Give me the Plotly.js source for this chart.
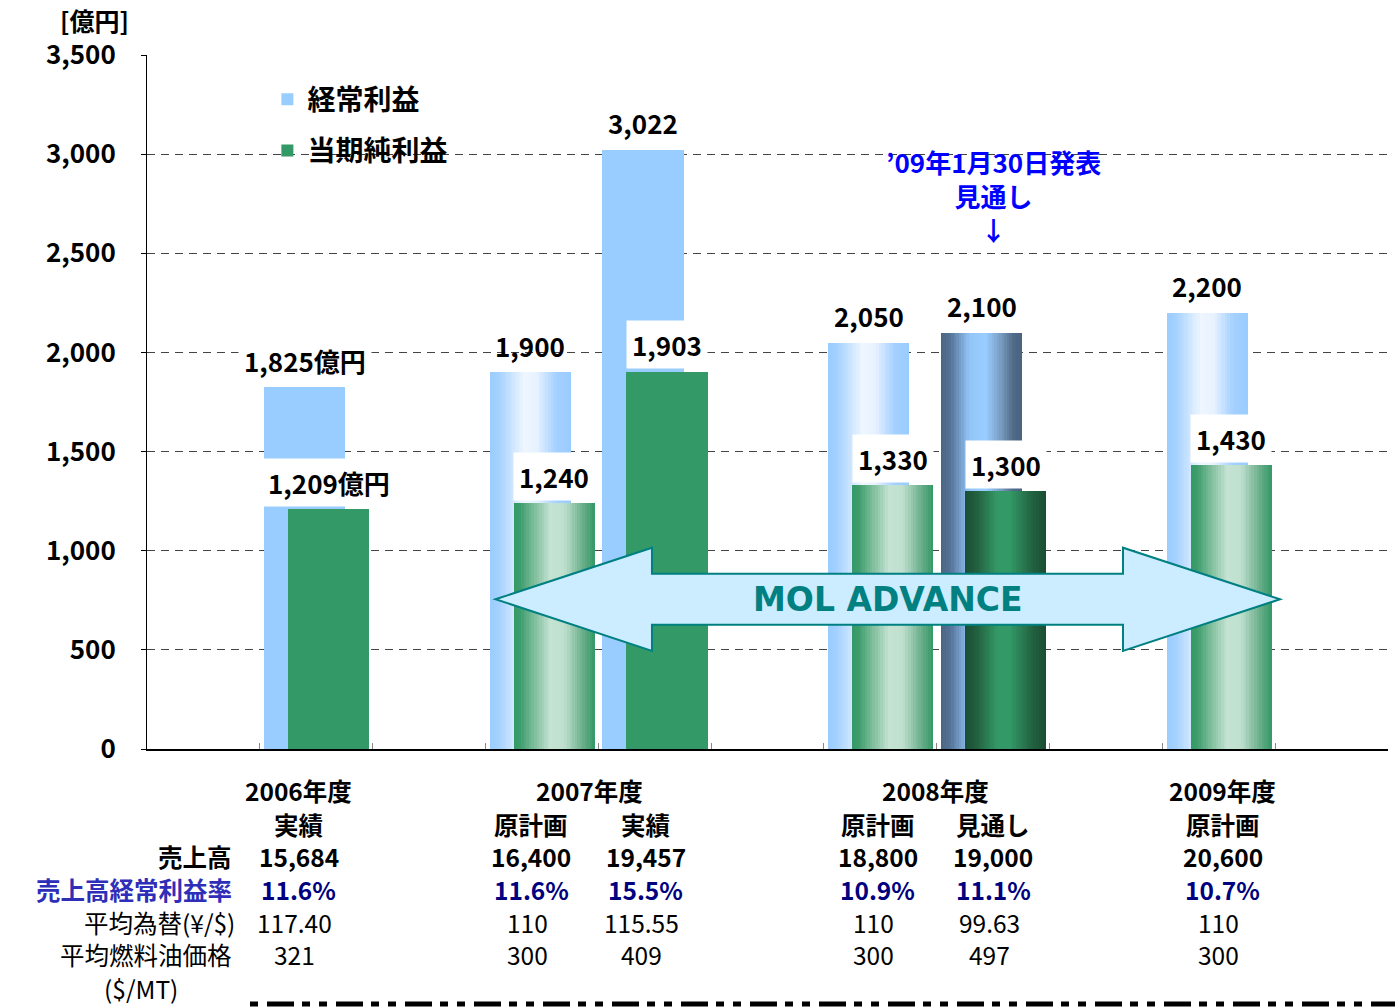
<!DOCTYPE html>
<html><head><meta charset="utf-8">
<script src="https://cdn.plot.ly/plotly-3.0.1.min.js"></script>
<style>html,body{margin:0;padding:0;background:#fff;} #chart{width:1395px;height:1008px;}</style>
</head><body><div id="chart"></div>
<script>
// ---------------- data ----------------
const fiscalYears = ['2006年度', '2007年度', '2008年度', '2009年度'];
const periodTypes = ['実績', '原計画', '実績', '原計画', '見通し', '原計画'];
const periodYear = [0, 1, 1, 2, 2, 3];
const ordinaryProfit = [1825, 1900, 3022, 2050, 2100, 2200];
const netIncome = [1209, 1240, 1903, 1330, 1300, 1430];
const sales = [15684, 16400, 19457, 18800, 19000, 20600];
const ordinaryMargin = ['11.6%', '11.6%', '15.5%', '10.9%', '11.1%', '10.7%'];
const fxRate = ['117.40', '110', '115.55', '110', '99.63', '110'];
const fuelPrice = ['321', '300', '409', '300', '497', '300'];
const rowLabels = ['売上高', '売上高経常利益率', '平均為替(¥/$)', '平均燃料油価格', '($/MT)'];
const seriesNames = ['経常利益', '当期純利益'];
const yTickVals = [0, 500, 1000, 1500, 2000, 2500, 3000, 3500];
const unitLabel = '[億円]';
const firstLabelSuffix = '億円';
const bannerText = 'MOL ADVANCE';
const noteLines = ['’09年1月30日発表', '見通し', '↓'];

// ---------------- layout / style config ----------------
const slot = [1, 3, 4, 6, 7, 9];            // category slot of each bar pair
const barKind = ['flat', 'plan', 'flat', 'plan', 'fcst', 'plan'];
const BW = 0.72, OFF_B = -0.463, OFF_G = -0.25;
const colX = [0.847, 2.904, 3.923, 5.979, 6.999, 9.037];
const yearX = [0.847, 3.418, 6.485, 9.037];
const rowY = { year: -0.0605, type: -0.1081, sales: -0.1542, margin: -0.2031, fx: -0.2493, fuel: -0.2968, unit: -0.3444 };
const blueLabelBg = ['white', 'rgba(0,0,0,0)', 'white', 'white', 'white', 'white'];

const FONT = '"Noto Sans CJK JP", "Noto Sans", sans-serif';
const BLUE = '#99CCFF', GREEN = '#339966';
const grads = {
  bplan: [[0, '#99CCFF'], [0.12, '#A6D2FF'], [0.42, '#EEF6FF'], [0.58, '#E8F2FF'], [0.82, '#A3D0FF'], [1, '#99CCFF']],
  bfcst: [[0, '#4A6580'], [0.12, '#56749A'], [0.35, '#93C6F8'], [0.55, '#99CCFF'], [0.75, '#7799BE'], [0.9, '#4D6884'], [1, '#4A6580']],
  gplan: [[0, '#339966'], [0.08, '#3D9D6C'], [0.3, '#8FC6A8'], [0.45, '#C4E3D3'], [0.62, '#C0E0CF'], [0.85, '#6AAE8A'], [1, '#339966']],
  gfcst: [[0, '#1A4D33'], [0.15, '#226140'], [0.4, '#339966'], [0.55, '#339966'], [0.85, '#215F3F'], [1, '#1A4D33']]
};

function hex(h) { return [parseInt(h.slice(1, 3), 16), parseInt(h.slice(3, 5), 16), parseInt(h.slice(5, 7), 16)]; }
function colorAt(stops, t) {
  for (let i = 0; i < stops.length - 1; i++) {
    const [p0, c0] = stops[i], [p1, c1] = stops[i + 1];
    if (t >= p0 && t <= p1) {
      const f = (t - p0) / (p1 - p0 || 1), a = hex(c0), b = hex(c1);
      return 'rgb(' + a.map((v, k) => Math.round(v + (b[k] - v) * f)).join(',') + ')';
    }
  }
  return stops[stops.length - 1][1];
}

const N = 32;
function barTraces(values, offset, flatColor, gradMap, name, group) {
  const traces = [];
  const flatIdx = values.map((v, i) => i).filter(i => barKind[i] === 'flat');
  traces.push({
    type: 'bar', name: name, legendgroup: group, showlegend: true,
    x: flatIdx.map(i => slot[i]), y: flatIdx.map(i => values[i]),
    width: BW, offset: offset, marker: { color: flatColor, line: { width: 0 } },
    hoverinfo: 'skip'
  });
  Object.keys(gradMap).forEach(kind => {
    const stops = gradMap[kind];
    const xs = [], ys = [], offs = [], ws = [], cs = [];
    values.forEach((v, i) => {
      if (barKind[i] !== kind) return;
      for (let k = 0; k < N; k++) {
        const o = offset + k * BW / N;
        xs.push(slot[i]); ys.push(v); offs.push(o);
        ws.push(Math.min(BW / N * 1.7, offset + BW - o));
        cs.push(colorAt(stops, (k + 0.5) / N));
      }
    });
    traces.push({
      type: 'bar', name: name, legendgroup: group, showlegend: false,
      x: xs, y: ys, offset: offs, width: ws,
      marker: { color: cs, line: { width: 0 } }, hoverinfo: 'skip'
    });
  });
  return traces;
}

const data = [].concat(
  barTraces(ordinaryProfit, OFF_B, BLUE, { plan: grads.bplan, fcst: grads.bfcst }, seriesNames[0], 'g1'),
  barTraces(netIncome, OFF_G, GREEN, { plan: grads.gplan, fcst: grads.gfcst }, seriesNames[1], 'g2')
);

const fmt = v => v.toLocaleString('en-US');
const ann = [];
// bar value labels
ordinaryProfit.forEach((v, i) => ann.push({
  x: slot[i] + OFF_B + BW / 2, y: v, xref: 'x', yref: 'y', yanchor: 'middle', yshift: 27,
  text: fmt(v) + (i === 0 ? firstLabelSuffix : ''), showarrow: false,
  font: { family: FONT, size: 26, color: '#000', weight: 'bold' }, bgcolor: blueLabelBg[i], borderpad: 5
}));
netIncome.forEach((v, i) => ann.push({
  x: slot[i] + OFF_G + BW / 2, y: v, xref: 'x', yref: 'y', yanchor: 'middle', yshift: 27,
  text: fmt(v) + (i === 0 ? firstLabelSuffix : ''), showarrow: false,
  font: { family: FONT, size: 26, color: '#000', weight: 'bold' }, bgcolor: 'white', borderpad: 5
}));
// unit label
ann.push({ x: -0.042, y: 1.051, xref: 'paper', yref: 'paper', text: unitLabel, showarrow: false,
  xanchor: 'center', yanchor: 'middle', borderpad: 0, font: { family: FONT, size: 25, color: '#000', weight: 'bold' } });
// note (three lines in one text block)
ann.push({ x: 7.0, y: 2789, xref: 'x', yref: 'y', text: noteLines.join('<br>'), showarrow: false,
  xanchor: 'center', yanchor: 'middle', align: 'center', borderpad: 0,
  font: { family: FONT, size: 26, color: '#0000FF', weight: 'bold' } });
// banner text
ann.push({ x: 6.068, y: 756, xref: 'x', yref: 'y', text: bannerText, showarrow: false, xanchor: 'center', yanchor: 'middle',
  font: { family: '"DejaVu Sans", sans-serif', size: 33, color: '#008080', weight: 'bold' } });

// table
function cell(x, y, text, opts) {
  ann.push(Object.assign({ x: x, y: y, xref: 'x', yref: 'paper', text: text, showarrow: false,
    xanchor: 'center', yanchor: 'middle', borderpad: 0 }, opts));
}
const TS = 24.5;
const boldBlack = { family: FONT, size: TS, color: '#000', weight: 'bold' };
const normBlack = { family: FONT, size: TS, color: '#000', weight: 'normal' };
const boldNavy = { family: FONT, size: TS, color: '#000080', weight: 'bold' };
fiscalYears.forEach((t, j) => cell(yearX[j], rowY.year, t, { font: boldBlack }));
periodTypes.forEach((t, i) => {
  cell(colX[i], rowY.type, t, { font: boldBlack });
  cell(colX[i], rowY.sales, fmt(sales[i]), { font: boldBlack });
  cell(colX[i], rowY.margin, ordinaryMargin[i], { font: boldNavy });
  cell(colX[i], rowY.fx, fxRate[i], { font: normBlack, xshift: -4 });
  cell(colX[i], rowY.fuel, fuelPrice[i], { font: normBlack, xshift: -4 });
});
const rl = (t, y, font, xa, xp) => ann.push({ x: xp, y: y, xref: 'paper', yref: 'paper', text: t, showarrow: false,
  xanchor: xa, yanchor: 'middle', font: font, borderpad: 0 });
rl(rowLabels[0], rowY.sales, boldBlack, 'right', 0.0693);
rl(rowLabels[1], rowY.margin, { family: FONT, size: TS, color: '#2E2EB8', weight: 'bold' }, 'right', 0.0693);
rl(rowLabels[2], rowY.fx, normBlack, 'right', 0.0717);
rl(rowLabels[3], rowY.fuel, normBlack, 'right', 0.0693);
rl(rowLabels[4], rowY.unit, normBlack, 'center', -0.0048);

// shapes
const ac = 755, hh = 260, sh = 128.5;
const L = 2.589, LB = 3.976, RB = 8.151, R = 9.543;
const arrowPath = `M${L},${ac} L${LB},${ac + hh} L${LB},${ac + sh} L${RB},${ac + sh} L${RB},${ac + hh} L${R},${ac} L${RB},${ac - hh} L${RB},${ac - sh} L${LB},${ac - sh} L${LB},${ac - hh} Z`;
const shapes = [
  { type: 'path', xref: 'x', yref: 'y', path: arrowPath, fillcolor: '#CCECFF', line: { color: '#008080', width: 2 }, layer: 'above' },
  { type: 'line', xref: 'paper', yref: 'paper', x0: 0.083, x1: 1.006, y0: -0.3674, y1: -0.3674,
    line: { color: '#000', width: 5, dash: '8px,9px,27px,8px,8px,9px' } }
];

const layout = {
  width: 1395, height: 1008,
  margin: { l: 147, r: 7, t: 55, b: 259 },
  paper_bgcolor: '#fff', plot_bgcolor: '#fff',
  font: { family: FONT, color: '#000' },
  barmode: 'overlay', bargap: 0,
  showlegend: true,
  legend: { x: 0.097, y: 0.972, xanchor: 'left', yanchor: 'top', traceorder: 'grouped', tracegroupgap: 12,
    bgcolor: 'rgba(0,0,0,0)', font: { family: FONT, size: 28, color: '#000', weight: 'bold' } },
  xaxis: {
    range: [-0.5, 10.5], showgrid: false, zeroline: false, showticklabels: false,
    tickmode: 'array', tickvals: [0.5, 1.5, 2.5, 3.5, 4.5, 5.5, 6.5, 7.5, 8.5, 9.5],
    ticks: 'inside', ticklen: 6, tickcolor: '#888', tickwidth: 1,
    showline: true, linecolor: '#000', linewidth: 1.5, fixedrange: true
  },
  yaxis: {
    range: [0, 3500], tickmode: 'array', tickvals: yTickVals, tickformat: ',d',
    showgrid: true, gridcolor: '#444', gridwidth: 1, griddash: '8px,6px', zeroline: false,
    ticks: 'outside', ticklen: 5, tickcolor: '#000', ticklabelstandoff: 20,
    showline: true, linecolor: '#000', linewidth: 1,
    tickfont: { family: FONT, size: 26, color: '#000', weight: 'bold' }, fixedrange: true
  },
  annotations: ann,
  shapes: shapes
};

Plotly.newPlot('chart', data, layout, { displayModeBar: false, staticPlot: true });
</script>
</body></html>
